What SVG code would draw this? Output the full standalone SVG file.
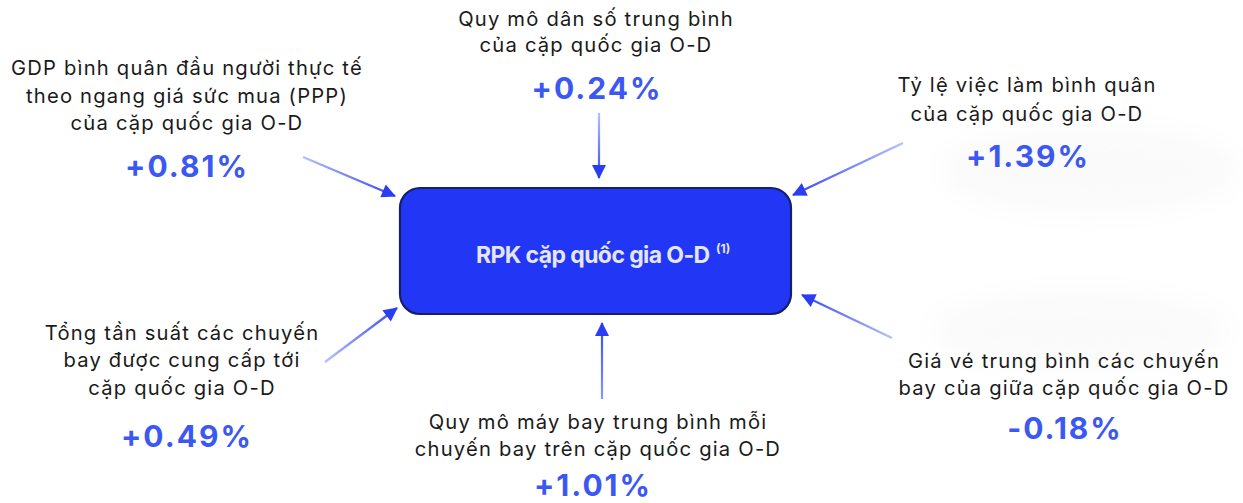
<svg xmlns="http://www.w3.org/2000/svg" width="1243" height="503" viewBox="0 0 1243 503">
<defs>
<style>
.lbl{font-family:Inter,"Noto Sans","Liberation Sans",sans-serif;font-size:20.2px;fill:#1a1a1a;text-anchor:middle;letter-spacing:1.2px}
.pct{font-family:Inter,"Noto Sans","Liberation Sans",sans-serif;font-size:30px;font-weight:700;fill:#3c58f3;text-anchor:middle;letter-spacing:2px}
.main{font-family:Inter,"Noto Sans","Liberation Sans",sans-serif;font-size:23px;font-weight:700;fill:#e4e6f7;letter-spacing:-0.6px}
.sup{font-family:Inter,"Noto Sans","Liberation Sans",sans-serif;font-size:12px;font-weight:700;fill:#e4e6f7}
.conn{fill:none;stroke-width:2.2}
</style>
<marker id="ah" viewBox="0 0 14 14" refX="13" refY="7" markerWidth="15" markerHeight="14" markerUnits="userSpaceOnUse" orient="auto">
<path d="M0,0 L14,7 L0,14 Z" fill="#2b3df2"/>
</marker>
<linearGradient id="g1" gradientUnits="userSpaceOnUse" x1="599" y1="113" x2="599" y2="178"><stop offset="0" stop-color="#b7c0fb"/><stop offset="1" stop-color="#3447f2"/></linearGradient>
<linearGradient id="g2" gradientUnits="userSpaceOnUse" x1="303" y1="157" x2="395" y2="196"><stop offset="0" stop-color="#b7c0fb"/><stop offset="1" stop-color="#3447f2"/></linearGradient>
<linearGradient id="g3" gradientUnits="userSpaceOnUse" x1="903" y1="143" x2="793" y2="195"><stop offset="0" stop-color="#b7c0fb"/><stop offset="1" stop-color="#3447f2"/></linearGradient>
<linearGradient id="g4" gradientUnits="userSpaceOnUse" x1="325" y1="362" x2="397" y2="308"><stop offset="0" stop-color="#b7c0fb"/><stop offset="1" stop-color="#3447f2"/></linearGradient>
<linearGradient id="g5" gradientUnits="userSpaceOnUse" x1="602" y1="399" x2="602" y2="323"><stop offset="0" stop-color="#8b98f8"/><stop offset="1" stop-color="#3447f2"/></linearGradient>
<linearGradient id="g6" gradientUnits="userSpaceOnUse" x1="892" y1="338" x2="802" y2="295"><stop offset="0" stop-color="#b7c0fb"/><stop offset="1" stop-color="#3447f2"/></linearGradient>
<filter id="blur" x="-20%" y="-50%" width="140%" height="200%"><feGaussianBlur stdDeviation="14"/></filter>
</defs>
<rect width="1243" height="503" fill="#ffffff"/>
<g id="bg-haze" fill="#fafafa" filter="url(#blur)">
<ellipse cx="1090" cy="170" rx="150" ry="45"/>
<ellipse cx="1080" cy="330" rx="150" ry="40"/>
</g>
<g id="center-node">
<rect x="400" y="188" width="391" height="126" rx="20" ry="20" fill="#2237f5" stroke="#16206a" stroke-width="2.2"/>
<text class="main" x="476" y="263">RPK cặp quốc gia O-D</text>
<text class="sup" x="716" y="253">(1)</text>
</g>
<g id="connectors">
<line class="conn" x1="599" y1="113" x2="599" y2="178" stroke="url(#g1)" marker-end="url(#ah)"/>
<line class="conn" x1="303" y1="157" x2="395" y2="196" stroke="url(#g2)" marker-end="url(#ah)"/>
<line class="conn" x1="903" y1="143" x2="793" y2="195" stroke="url(#g3)" marker-end="url(#ah)"/>
<line class="conn" x1="325" y1="362" x2="397" y2="308" stroke="url(#g4)" marker-end="url(#ah)"/>
<line class="conn" x1="602" y1="399" x2="602" y2="323" stroke="url(#g5)" marker-end="url(#ah)"/>
<line class="conn" x1="892" y1="338" x2="802" y2="295" stroke="url(#g6)" marker-end="url(#ah)"/>
</g>
<g id="node-population">
<text class="lbl" x="596" y="26">Quy mô dân số trung bình</text>
<text class="lbl" x="596" y="52">của cặp quốc gia O-D</text>
<text class="pct" x="597" y="99">+0.24%</text>
</g>
<g id="node-gdp">
<text class="lbl" x="187" y="75">GDP bình quân đầu người thực tế</text>
<text class="lbl" x="187" y="103">theo ngang giá sức mua (PPP)</text>
<text class="lbl" x="187" y="130">của cặp quốc gia O-D</text>
<text class="pct" x="187" y="177">+0.81%</text>
</g>
<g id="node-employment">
<text class="lbl" x="1027" y="92">Tỷ lệ việc làm bình quân</text>
<text class="lbl" x="1027" y="121">của cặp quốc gia O-D</text>
<text class="pct" x="1028" y="167">+1.39%</text>
</g>
<g id="node-frequency">
<text class="lbl" x="182" y="340">Tổng tần suất các chuyến</text>
<text class="lbl" x="182" y="367">bay được cung cấp tới</text>
<text class="lbl" x="182" y="395">cặp quốc gia O-D</text>
<text class="pct" x="187" y="447">+0.49%</text>
</g>
<g id="node-aircraft">
<text class="lbl" x="598" y="429">Quy mô máy bay trung bình mỗi</text>
<text class="lbl" x="598" y="456">chuyến bay trên cặp quốc gia O-D</text>
<text class="pct" x="593" y="496">+1.01%</text>
</g>
<g id="node-fare">
<text class="lbl" x="1064" y="368">Giá vé trung bình các chuyến</text>
<text class="lbl" x="1064" y="395">bay của giữa cặp quốc gia O-D</text>
<text class="pct" x="1065" y="439">-0.18%</text>
</g>
</svg>
